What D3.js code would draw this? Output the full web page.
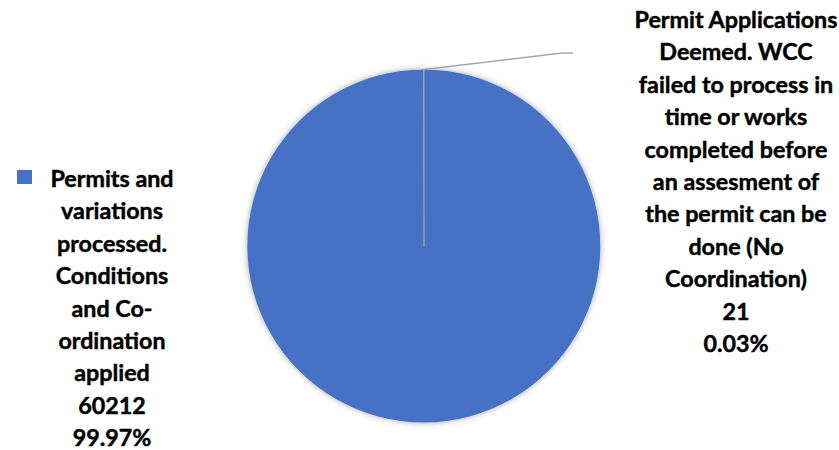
<!DOCTYPE html>
<html>
<head>
<meta charset="utf-8">
<script src="https://cdn.jsdelivr.net/npm/d3@7"></script>
<style>
  html, body { margin: 0; padding: 0; background: #fff; }
  svg { display: block; }
  text { font-family: Lato, "Open Sans", sans-serif; font-weight: bold; fill: #000; stroke: #000; stroke-width: 0.45px; }
</style>
</head>
<body>
<svg id="chart" width="839" height="450"></svg>
<script>
// ---- data ----
const categories = [
  "Permits and variations processed. Conditions and Co-ordination applied",
  "Permit Applications Deemed. WCC failed to process in time or works completed before an assesment of the permit can be done (No Coordination)"
];
const values = [60212, 21];
const percentLabels = ["99.97%", "0.03%"];
const labelLines = [
  ["Permits and", "variations", "processed.", "Conditions", "and Co-", "ordination", "applied"],
  ["Permit Applications", "Deemed. WCC", "failed to process in", "time or works", "completed before", "an assesment of", "the permit can be", "done (No", "Coordination)"]
];
const colors = ["#4472C4", "#A5A5A5"];

// ---- layout ----
const W = 839, H = 450;
const cx = 424, cy = 246, R = 176.5;
const svg = d3.select("#chart");

const defs = svg.append("defs");
const f = defs.append("filter").attr("id", "shadow")
  .attr("x", "-10%").attr("y", "-10%").attr("width", "120%").attr("height", "120%");
f.append("feDropShadow").attr("dx", 0).attr("dy", 0).attr("stdDeviation", 3)
  .attr("flood-color", "#000").attr("flood-opacity", 0.35);

const pie = d3.pie().sort(null).value(d => d)
  .startAngle(0).endAngle(2 * Math.PI);
const arcs = pie(values);
const arc = d3.arc().innerRadius(0).outerRadius(R);

const g = svg.append("g").attr("transform", `translate(${cx},${cy})`);
g.append("g").attr("filter", "url(#shadow)")
  .selectAll("path").data(arcs).enter().append("path")
  .attr("d", arc)
  .attr("fill", (d, i) => colors[i])
  .attr("stroke", (d, i) => i === 1 ? colors[1] : "none")
  .attr("stroke-width", 0.8);

// leader line for small slice
const small = arcs[1];
const midA = (small.startAngle + small.endAngle) / 2;
const p0 = [cx + R * Math.sin(midA), cy - R * Math.cos(midA)];
const p1 = [562, 53];
const p2 = [573, 53];
svg.append("polyline")
  .attr("points", [p0, p1, p2].map(p => p.join(",")).join(" "))
  .attr("fill", "none").attr("stroke", "#A6A6A6").attr("stroke-width", 1.5);

// labels
const fontSize = 23.3;
const lineH = 32.4;

function drawLabel(lines, x, yFirst) {
  const t = svg.append("text").attr("text-anchor", "middle")
    .style("font-size", fontSize + "px");
  lines.forEach((l, i) => {
    t.append("tspan").attr("x", x).attr("y", yFirst + i * lineH)
      .attr("dominant-baseline", "central").text(l);
  });
  return t;
}

const fmt = d3.format("d");
drawLabel(labelLines[0].concat([fmt(values[0]), percentLabels[0]]), 112, 178);
drawLabel(labelLines[1].concat([fmt(values[1]), percentLabels[1]]), 736, 19);

// legend key in the left label
svg.append("rect").attr("x", 17).attr("y", 170).attr("width", 15).attr("height", 14)
  .attr("fill", colors[0]);
</script>
</body>
</html>
